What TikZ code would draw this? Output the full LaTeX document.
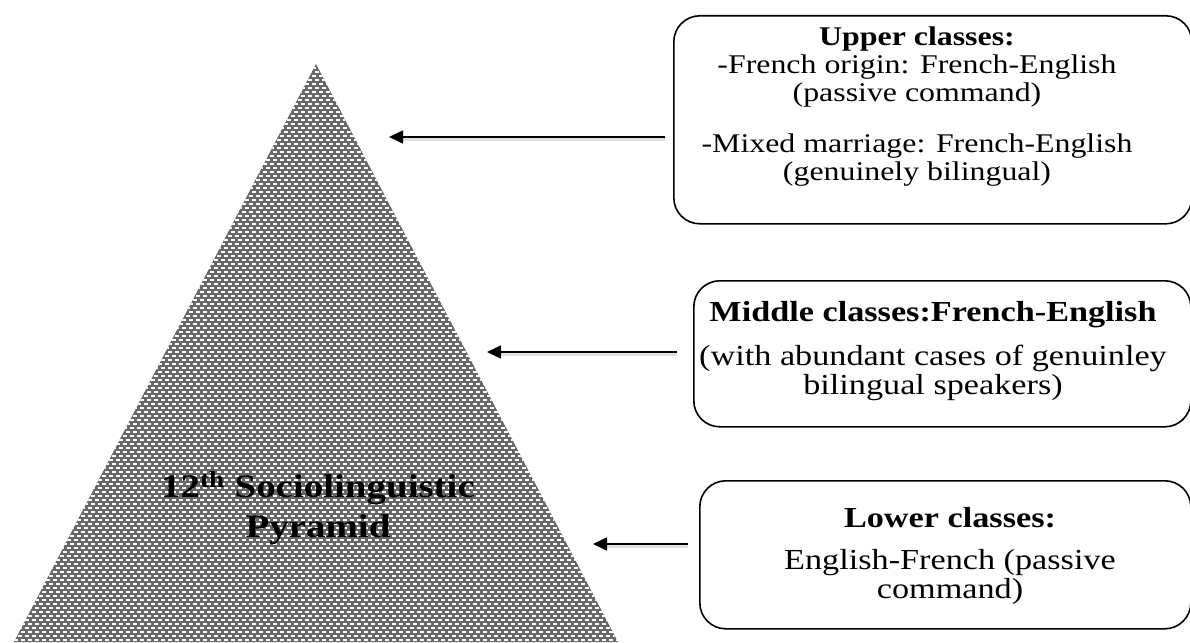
\documentclass[tikz,border=0pt]{standalone}
\usepackage{fontspec}
\setmainfont{Liberation Serif}[FakeStretch=1.18]
\usetikzlibrary{arrows.meta}
\definecolor{pyrgray}{RGB}{104,104,104}
\tikzset{
  classbox/.style={draw=black, line width=1.6pt, rounded corners=26pt, fill=white},
  boxtext/.style={align=center, inner sep=0pt, anchor=base, font=\fontsize{29}{29}\selectfont},
  pointer/.style={line width=1.6pt, -{Triangle[length=14pt,width=13pt]}},
  shade/.style={line width=2.5pt, draw=black!12},
}
\begin{document}
\begin{tikzpicture}[x=1pt,y=-1pt]
\useasboundingbox (0,0) rectangle (1190,642);

% pyramid with a woven fill
\coordinate (apex) at (316,64);
\coordinate (bl) at (14,642);
\coordinate (br) at (618,642);
\fill[pyrgray] (apex) -- (br) -- (bl) -- cycle;
\begin{scope}
  \clip (apex) -- (br) -- (bl) -- cycle;
  \foreach \r in {0,...,146} {
    \pgfmathsetmacro{\yy}{64+4*\r}
    \pgfmathsetmacro{\ph}{mod(\r,2)*3.5}
    \draw[white, line width=1.4pt, dash pattern=on 4pt off 3pt, dash phase=\ph pt]
      (0,\yy) -- (640,\yy);
  }
\end{scope}
% multi-line nodes: the base anchor sits on the baseline of the last line
\node[font=\bfseries\fontsize{33}{40}\selectfont, align=center, inner sep=0pt, anchor=base] (title) at (318,537)
  {12\textsuperscript{th} Sociolinguistic\\Pyramid};

% class boxes
\node[classbox, minimum width=518pt, minimum height=208pt, anchor=north west] (upper) at (673,15) {};
\node[classbox, minimum width=497pt, minimum height=146pt, anchor=north west] (middle) at (693,280) {};
\node[classbox, minimum width=491pt, minimum height=148pt, anchor=north west] (lower) at (699,480) {};

\node[boxtext, font=\fontsize{27}{28}\selectfont] (uppertext) at (917,180)
  {\textbf{Upper classes:}\\
   -French origin: French-English\\
   (passive command)\\[23pt]
   -Mixed marriage: French-English\\
   (genuinely bilingual)};
\node[boxtext] (middletext) at (933,394)
  {\textbf{Middle classes:French-English}\\[15pt]
   (with abundant cases of genuinley\\
   bilingual speakers)};
\node[boxtext] (lowertext) at (950,598)
  {\textbf{Lower classes:}\\[13pt]
   English-French (passive\\
   command)};

% arrows from the boxes to the pyramid
\coordinate (ua) at (389,137);
\coordinate (ma) at (487,352);
\coordinate (la) at (593,544);
\draw[shade] ([xshift=-8pt,yshift=-2.5pt]upper.west |- ua) -- ([xshift=8pt,yshift=-2.5pt]ua);
\draw[shade] ([xshift=-16pt,yshift=-2.5pt]middle.west |- ma) -- ([xshift=8pt,yshift=-2.5pt]ma);
\draw[shade] ([xshift=-11pt,yshift=-2.5pt]lower.west |- la) -- ([xshift=8pt,yshift=-2.5pt]la);
\draw[pointer] ([xshift=-8pt]upper.west |- ua) -- (ua);
\draw[pointer] ([xshift=-16pt]middle.west |- ma) -- (ma);
\draw[pointer] ([xshift=-11pt]lower.west |- la) -- (la);
\end{tikzpicture}
\end{document}
